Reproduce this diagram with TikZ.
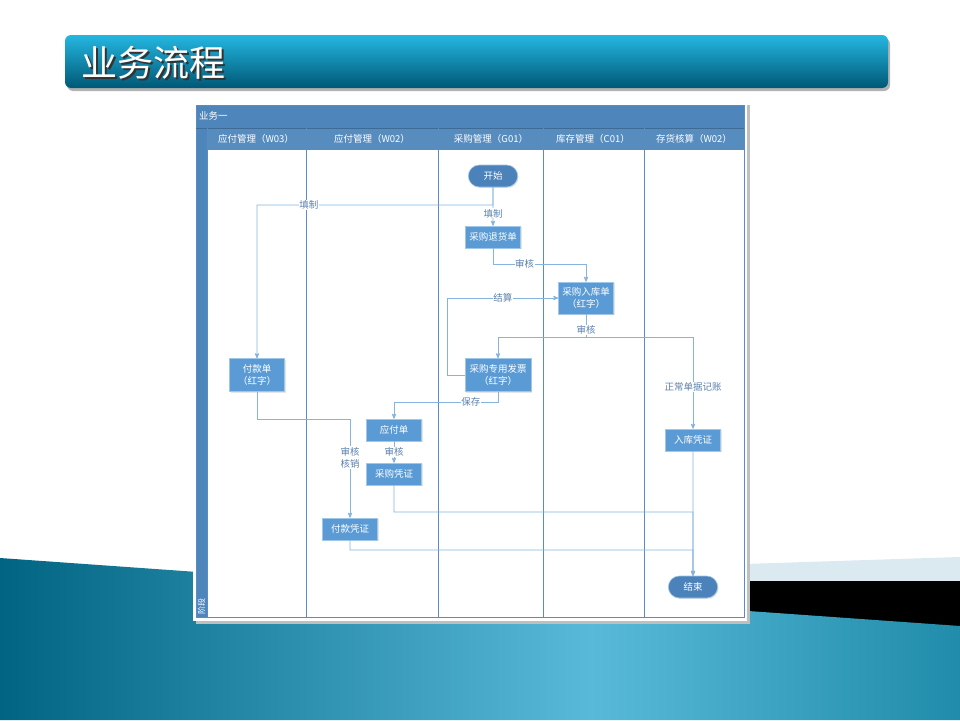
\documentclass[tikz,border=0pt]{standalone}
\usepackage{fontspec}
\setmainfont{Noto Sans CJK SC}
\usepackage{xcolor}
\definecolor{colorTitleTop}{RGB}{36,183,225}
\definecolor{colorTitleBottom}{RGB}{0,88,118}
\definecolor{colorSeaDark}{RGB}{0,100,130}
\definecolor{colorSeaLight}{RGB}{88,186,216}
\definecolor{colorSeaRight}{RGB}{0,112,144}
\definecolor{colorBand}{RGB}{219,233,240}
\definecolor{colorLane}{RGB}{78,134,188}
\definecolor{colorLaneLine}{RGB}{88,140,194}
\definecolor{colorTask}{RGB}{91,155,213}
\definecolor{colorTaskLine}{RGB}{160,198,232}
\definecolor{colorTerminal}{RGB}{76,130,186}
\colorlet{colorFlow}{colorTask!75!white}
\definecolor{colorFlowText}{RGB}{92,128,172}
\usepackage{tikz}
\usetikzlibrary{arrows, positioning, shapes.misc, shadows}
\tikzset{
  boxshadow/.style={drop shadow={opacity=0.2, shadow xshift=1pt, shadow yshift=-1pt}},
  taskbox/.style={draw=colorTaskLine, fill=colorTask, text=white, line width=0.6pt,
    minimum width=55pt, minimum height=22pt, inner sep=1pt, align=center, boxshadow},
  terminal/.style={rounded rectangle, draw=colorTaskLine, fill=colorTerminal, text=white,
    line width=0.6pt, minimum width=56pt, minimum height=22pt, boxshadow},
  lanehead/.style={text=white, inner sep=0pt},
  flowlabel/.style={fill=white, text=colorFlowText, inner sep=0.6pt, align=center},
  flow/.style={->, draw=colorFlow, line width=0.8pt}
}

\begin{document}
\begin{tikzpicture}[x=1pt, y=-1pt, >=stealth', every node/.style={font=\fontsize{9.5}{12}\selectfont}]
\useasboundingbox (0,0) rectangle (960,720);
% slide background
\fill[white] (0,0) rectangle (960,720);
\fill[colorBand] (190,582) -- (960,557) -- (960,581) -- (190,581) -- cycle;
\fill[black] (190,581) rectangle (960,630);
\begin{scope}
  \clip (0,558) -- (960,626) -- (960,720) -- (0,720) -- cycle;
  \shade[left color=colorSeaDark, right color=colorSeaRight, middle color=colorSeaLight]
    (0,550) rectangle (1180,720);
\end{scope}

% title bar
\fill[black!30, rounded corners=6] (67,38) rectangle (890,91);
\shade[top color=colorTitleTop, bottom color=colorTitleBottom, rounded corners=6] (65,35) rectangle (888,88);
\node[anchor=west, text=black!80, font=\fontsize{36}{36}\selectfont] (titleShadow) at (79.5,64.5) {业务流程};
\node[anchor=west, text=white, font=\fontsize{36}{36}\selectfont] (title) at (78,63) {业务流程};

% swimlane frame
\fill[black!25] (196,105) rectangle (750,624);
\fill[white] (193,102) rectangle (747,621);
\fill[colorLane] (196,105) rectangle (744,128);
\fill[colorLane!95!white] (196,128) rectangle (744,150);
\fill[colorLane] (196,128) rectangle (207,617);
\draw[colorLaneLine, line width=1pt] (196,105) rectangle (744,617);
\draw[colorLane!80!black, line width=0.6pt] (196,128) -- (744,128);
\foreach \x in {207,306,438,543,644}
  \draw[colorLaneLine, line width=1pt] (\x,128) -- (\x,617);
\node[lanehead, anchor=west] (lane0) at (199,116) {业务一};
\foreach \x/\t [count=\i] in {256/应付管理（W03）, 372/应付管理（W02）, 491/采购管理（G01）,
    593/库存管理（C01）, 694/存货核算（W02）}
  \node[lanehead] (lane\i) at (\x,139) {\t};
\node[lanehead, rotate=90, font=\fontsize{8}{8}\selectfont] (phase) at (201.5,606) {阶段};

% steps
\node[terminal] (start) at (493,176) {开始};
\node[taskbox] (thd) at (493,237) {采购退货单};
\node[taskbox, minimum height=32pt] (rkd) at (586,298) {采购入库单\\（红字）};
\node[taskbox, minimum height=33pt, minimum width=66pt] (fp) at (498,375) {采购专用发票\\（红字）};
\node[taskbox, minimum height=33pt] (fkd) at (257,375) {付款单\\（红字）};
\node[taskbox] (yfd) at (394,430) {应付单};
\node[taskbox] (cgpz) at (394,474) {采购凭证};
\node[taskbox] (fkpz) at (350,529) {付款凭证};
\node[taskbox] (rkpz) at (693,440) {入库凭证};
\node[terminal] (finish) at (693,587) {结束};

% bends
\coordinate (forkA) at (493,205);
\coordinate (bendB) at (586,264);
\coordinate (forkC) at (586,337);
\coordinate (bendE) at (394,402);
\coordinate (bendG) at (350,419);
\coordinate (bendH) at (693,512);
\coordinate (bendI) at (693,550);

% flows
\draw[flow] (start) -- node[flowlabel, pos=0.68]{填制} (thd);
\draw[flow] (start) -- (forkA) -| node[flowlabel, pos=0.39]{填制} (fkd);
\draw[flow] (thd) |- node[flowlabel, pos=0.67]{审核} (bendB) -- (rkd);
\draw[flow] (fp.west) -- ++(-17,0) |- node[flowlabel, pos=0.75]{结算} (rkd.west);
\draw[flow] (rkd) -- node[flowlabel, pos=0.68]{审核} (forkC) -| (fp);
\draw[flow] (forkC) -| node[flowlabel, pos=0.77]{正常单据记账} (rkpz);
\draw[flow] (fp) |- node[flowlabel, pos=0.63]{保存} (bendE) -- (yfd);
\draw[flow] (yfd) -- node[flowlabel]{审核} (cgpz);
\draw[flow] (fkd) |- (bendG) -- node[flowlabel, pos=0.39]{审核\\核销} (fkpz);
\draw[flow] (cgpz) |- (bendH) -- (finish);
\draw[flow] (fkpz) |- (bendI) -- (finish);
\draw[flow] (rkpz) -- (finish);
\end{tikzpicture}
\end{document}
